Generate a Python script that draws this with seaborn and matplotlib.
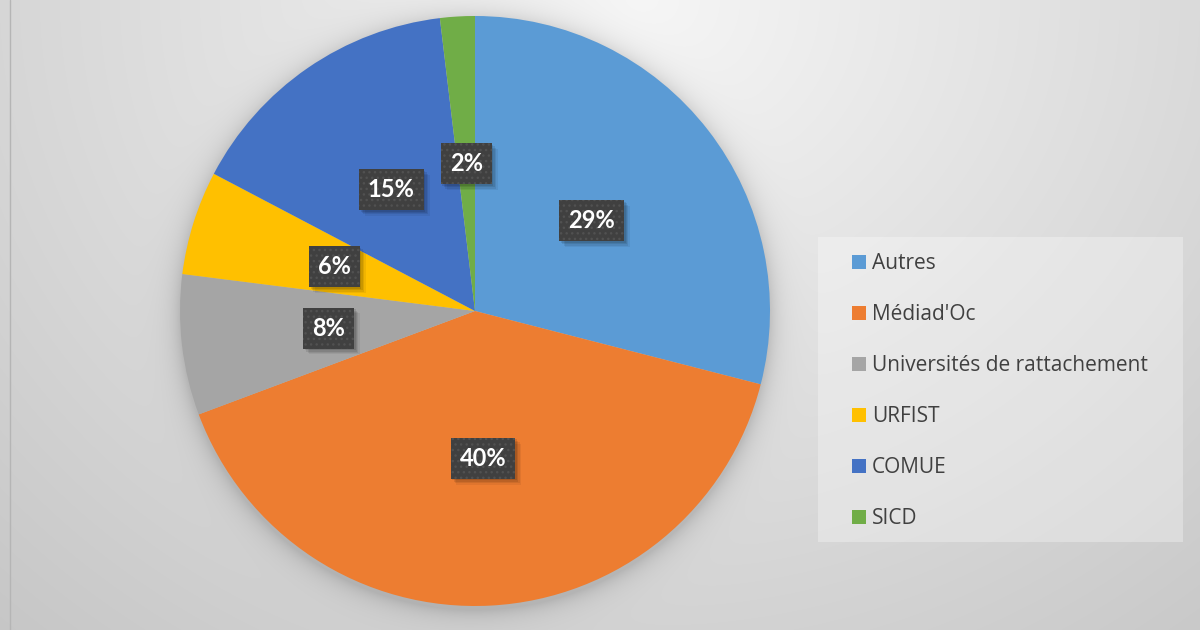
import numpy as np
import matplotlib
matplotlib.use("Agg")
import matplotlib.pyplot as plt
import seaborn as sns
from matplotlib import patheffects as pe
from matplotlib.patches import Rectangle
from matplotlib.transforms import Affine2D

# ---- data ----
categories = ["Autres", "Médiad'Oc", "Universités de rattachement", "URFIST", "COMUE", "SICD"]
shares = [29.0, 40.3, 7.7, 5.7, 15.4, 1.9]
colors = ["#5B9BD5", "#ED7D31", "#A5A5A5", "#FFC000", "#4472C4", "#70AD47"]

sns.set_theme(style="white")
plt.rcParams['font.family'] = ['Lato', 'DejaVu Sans']


class SoftBoxShadow(pe.AbstractPathEffect):
    """Soft, un-hatched drop shadow for the label boxes."""
    def __init__(self, steps=((1.2, 0.10), (2.2, 0.09), (3.2, 0.08), (4.2, 0.06))):
        super().__init__()
        self.steps = steps

    def draw_path(self, renderer, gc, tpath, affine, rgbFace):
        for off, a in self.steps:
            px = renderer.points_to_pixels(off)
            gc0 = renderer.new_gc()
            gc0.copy_properties(gc)
            gc0.set_hatch(None)
            gc0.set_foreground('none')
            gc0.set_alpha(a)
            gc0.set_linewidth(0)
            renderer.draw_path(gc0, tpath, affine + Affine2D().translate(px, -px), (0, 0, 0))
            gc0.restore()


W, H = 1200, 630
fig = plt.figure(figsize=(12, 6.3), dpi=100)

# ---- background with radial gradient and pie shadow ----
bg = fig.add_axes([0, 0, 1, 1])
bg.set_axis_off()
yy, xx = np.mgrid[0:H, 0:W] + 0.5
d = np.sqrt(((xx - 640) / 600.0) ** 2 + (yy / 537.0) ** 2)
g = np.clip(246 - 30 * d, 193, 248)
cx, cy, R = 475, 311, 295
r = np.hypot(xx - cx, yy - (cy + 4)) - R
sh = np.where(r > 0, 0.15 * np.exp(-r / 11.0), 0.15)
g = g * (1 - sh)
img = np.dstack([g, g, g]) / 255.0
bg.imshow(img, extent=[0, W, H, 0], aspect='auto', interpolation='bilinear')
bg.set_xlim(0, W)
bg.set_ylim(H, 0)
bg.axvline(9.5, color='#B5B5B5', lw=1)
bg.add_patch(Rectangle((818, 237), 365, 305, facecolor='white', alpha=0.3, lw=0))

# ---- pie ----
ax = fig.add_axes([(cx - R) / W, (H - cy - R) / H, 2 * R / W, 2 * R / H])
wedges, texts, autotexts = ax.pie(
    shares, colors=sns.color_palette(colors), startangle=90, counterclock=False,
    autopct='%.0f%%', pctdistance=0.5,
    wedgeprops=dict(linewidth=0),
    textprops=dict(color='white', fontsize=17, fontweight='bold'))
ax.set_xlim(-1, 1)
ax.set_ylim(-1, 1)
ax.set_aspect('equal')
ax.set_axis_off()
for w in wedges:
    w.set_clip_on(False)

for t in autotexts:
    t.set_bbox(dict(boxstyle='square,pad=0.38', facecolor='#404040',
                    edgecolor='#515151', hatch='...', linewidth=0))
    t.get_bbox_patch().set_path_effects([SoftBoxShadow(), pe.Normal()])

# ---- legend ----
fig.legend(wedges, categories, loc='upper left',
           bbox_to_anchor=(852 / W, 1 - 253 / H),
           frameon=False,
           prop=dict(family=['Open Sans', 'DejaVu Sans'], size=15),
           borderpad=0, borderaxespad=0,
           handlelength=0.65, handleheight=0.65, handletextpad=0.3,
           labelspacing=1.44, labelcolor='#404040')

fig.savefig("out.png", dpi=100)
